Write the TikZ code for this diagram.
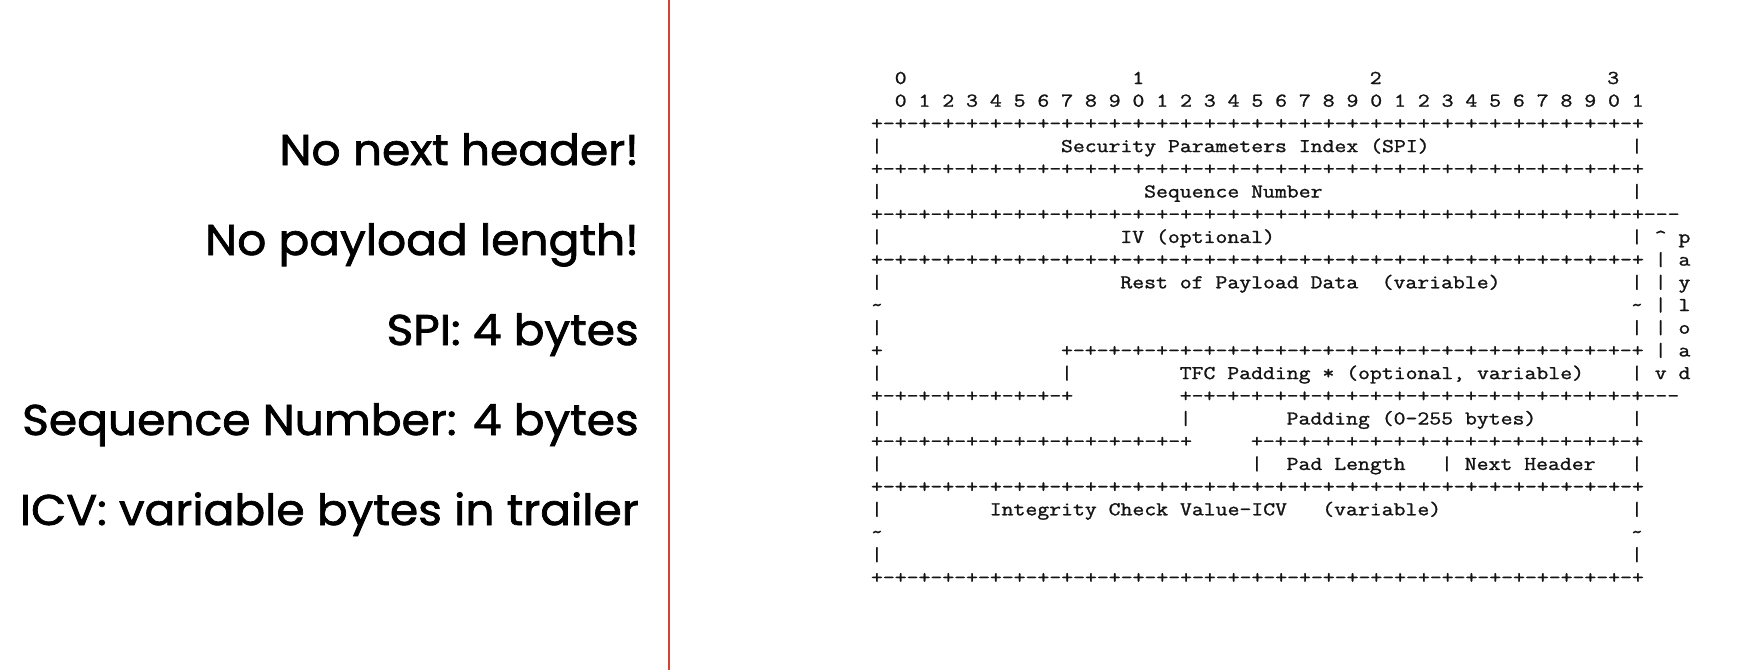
\documentclass[tikz,border=0pt]{standalone}
\usepackage{fontspec}
\setmainfont{Poppins}
\newfontfamily\notefont{Poppins}[FakeBold=1.6]
\newfontfamily\asciifont{Latin Modern Mono}[Ligatures=NoCommon, FakeStretch=1.178, FakeBold=1.3]
\definecolor{divred}{RGB}{214,66,50}
\definecolor{ink}{RGB}{20,20,20}
\newcommand\pluses[1]{\foreach \i in {1,...,#1}{+-}+}
\def\xo{871}
\def\cw{11.875}
\def\yo{84}
\def\lh{22.7}
\newcommand\mt[4]{\node[mono] (#1) at ({\xo+#2*\cw},{-(\yo+#3*\lh)}) {#4};}
\tikzset{
  mono/.style={anchor=base west, inner sep=0pt, outer sep=0pt, text=ink,
    font=\asciifont\fontsize{19.6}{22}\selectfont},
  note/.style={anchor=base east, inner sep=0pt, text=black, xscale=1.06,
    font=\notefont\fontsize{43}{50}\selectfont},
  divider/.style={draw=divred, line width=2.6pt}
}
\begin{document}
\begin{tikzpicture}[x=1pt,y=1pt]
\fill[white] (0,0) rectangle (1757,-670);
\useasboundingbox (0,0) rectangle (1757,-670);
% left notes
\node[note] (n1) at (639,-165) {No next header!};
\node[note] (n2) at (639,-255) {No payload length!};
\node[note] (n3) at (639,-345) {SPI: 4 bytes};
\node[note] (n4) at (639,-435) {Sequence Number: 4 bytes};
\node[note] (n5) at (639,-525) {ICV: variable bytes in trailer};
% divider
\coordinate (dtop) at (669,0);
\coordinate (dbot) at (669,-670);
\draw[divider] (dtop) -- (dbot);
% header bit numbers
\mt{t0}{2}{0}{0}
\mt{t1}{22}{0}{1}
\mt{t2}{42}{0}{2}
\mt{t3}{62}{0}{3}
\mt{bits}{2}{1}{0 1 2 3 4 5 6 7 8 9 0 1 2 3 4 5 6 7 8 9 0 1 2 3 4 5 6 7 8 9 0 1}
% row 2
\mt{b2}{0}{2}{\pluses{32}}
% SPI
\mt{l3}{0}{3}{|}\mt{spi}{16}{3}{Security Parameters Index (SPI)}\mt{r3}{64}{3}{|}
\mt{b4}{0}{4}{\pluses{32}}
\mt{l5}{0}{5}{|}\mt{seq}{23}{5}{Sequence Number}\mt{r5}{64}{5}{|}
\mt{b6}{0}{6}{\pluses{32}-{}-{}-}
\mt{l7}{0}{7}{|}\mt{iv}{21}{7}{IV (optional)}\mt{r7}{64}{7}{|}
\mt{a7}{66}{7}{\textasciicircum}\mt{p7}{68}{7}{p}
\mt{b8}{0}{8}{\pluses{32}}\mt{a8}{66}{8}{|}\mt{p8}{68}{8}{a}
\mt{l9}{0}{9}{|}\mt{rest}{21}{9}{Rest of Payload Data}\mt{restv}{43}{9}{(variable)}\mt{r9}{64}{9}{|}
\mt{a9}{66}{9}{|}\mt{p9}{68}{9}{y}
\mt{l10}{0}{10}{\textasciitilde}\mt{r10}{64}{10}{\textasciitilde}\mt{a10}{66}{10}{|}\mt{p10}{68}{10}{l}
\mt{l11}{0}{11}{|}\mt{r11}{64}{11}{|}\mt{a11}{66}{11}{|}\mt{p11}{68}{11}{o}
\mt{l12}{0}{12}{+}\mt{b12}{16}{12}{\pluses{24}}\mt{a12}{66}{12}{|}\mt{p12}{68}{12}{a}
\mt{l13}{0}{13}{|}\mt{m13}{16}{13}{|}\mt{tfc}{26}{13}{TFC Padding * (optional, variable)}\mt{r13}{64}{13}{|}
\mt{a13}{66}{13}{v}\mt{p13}{68}{13}{d}
\mt{b14a}{0}{14}{\pluses{8}}\mt{b14b}{26}{14}{\pluses{19}-{}-{}-}
\mt{l15}{0}{15}{|}\mt{m15}{26}{15}{|}\mt{pad}{35}{15}{Padding (0-255 bytes)}\mt{r15}{64}{15}{|}
\mt{b16a}{0}{16}{\pluses{13}}\mt{b16b}{32}{16}{\pluses{16}}
\mt{l17}{0}{17}{|}\mt{m17}{32}{17}{|}\mt{padlen}{35}{17}{Pad Length}\mt{n17}{48}{17}{|}\mt{nh}{50}{17}{Next Header}\mt{r17}{64}{17}{|}
\mt{b18}{0}{18}{\pluses{32}}
\mt{l19}{0}{19}{|}\mt{icv}{10}{19}{Integrity Check Value-ICV}\mt{icvv}{38}{19}{(variable)}\mt{r19}{64}{19}{|}
\mt{l20}{0}{20}{\textasciitilde}\mt{r20}{64}{20}{\textasciitilde}
\mt{l21}{0}{21}{|}\mt{r21}{64}{21}{|}
\mt{b22}{0}{22}{\pluses{32}}
\end{tikzpicture}
\end{document}
